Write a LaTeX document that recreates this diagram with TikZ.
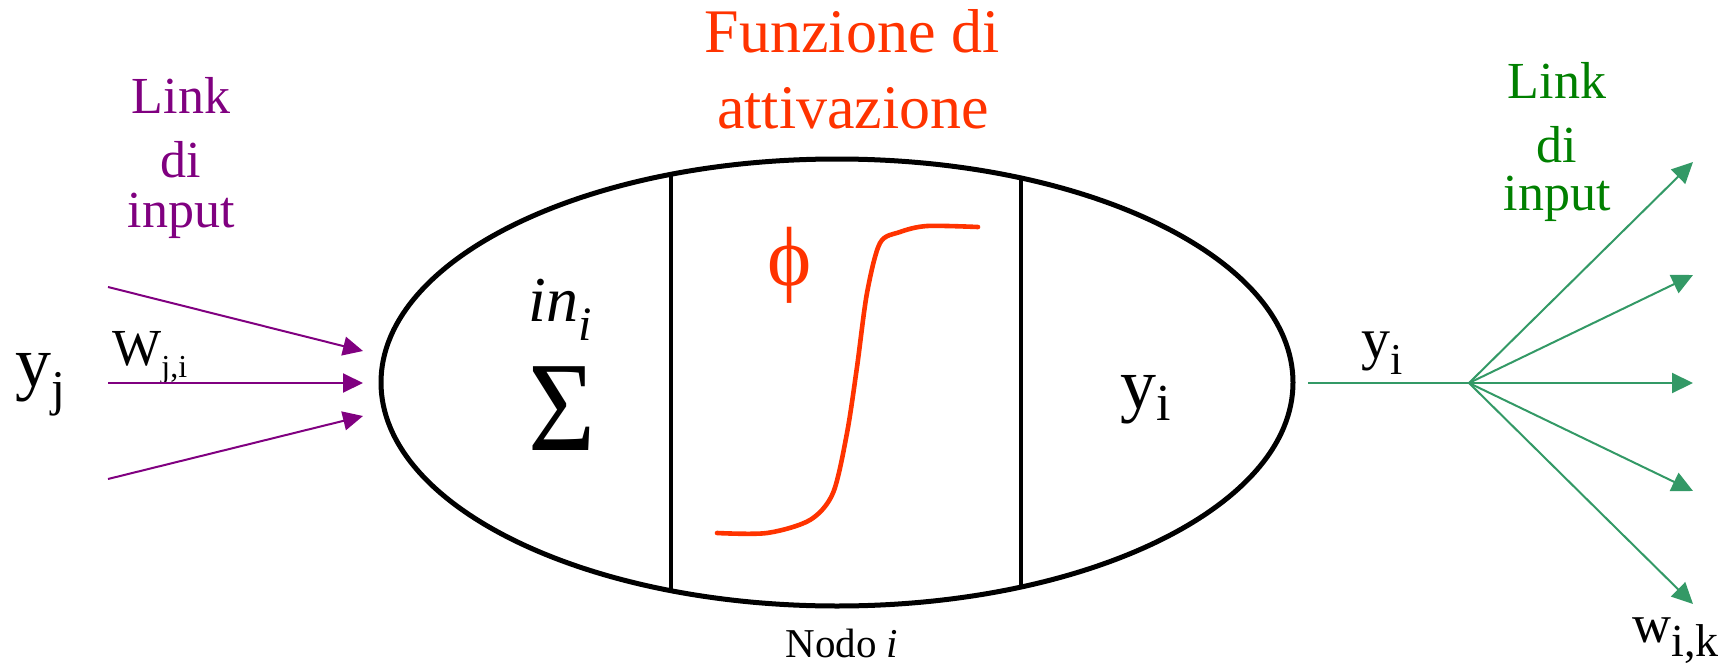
\documentclass[tikz,border=0pt]{standalone}
\usepackage{fontspec}
\setmainfont{Liberation Serif}
\usetikzlibrary{arrows.meta,shapes.geometric}
\definecolor{actred}{HTML}{FF3300}
\definecolor{inpurple}{HTML}{800080}
\definecolor{outgreen}{HTML}{008000}
\definecolor{arrgreen}{HTML}{339966}
\newcommand\fs[1]{\fontsize{#1}{#1}\selectfont}
\begin{document}
\begin{tikzpicture}[x=0.5pt,y=-0.5pt,
  lbl/.style={inner sep=0pt,anchor=base},
  lblw/.style={inner sep=0pt,anchor=base west},
  inarrow/.style={draw=inpurple,line width=1pt,-{Triangle[length=10pt,width=9.5pt]}},
  outline/.style={draw=arrgreen,line width=1pt},
  outarrow/.style={draw=arrgreen,line width=1pt,-{Triangle[length=10.5pt,width=10pt]}},
  divider/.style={line width=2pt},
  cellshape/.style={ellipse,draw,line width=2.5pt,inner sep=0pt,minimum width=456pt,minimum height=223.5pt}]
\useasboundingbox (0,0) rectangle (1735,669);

% main cell
\node[cellshape] (cell) at (837,382.5) {};
\coordinate (d1t) at (671,174.3);
\coordinate (d1b) at (671,590.7);
\coordinate (d2t) at (1021,178);
\coordinate (d2b) at (1021,587);
\draw[divider] (d1t) -- (d1b);
\draw[divider] (d2t) -- (d2b);

% title
\node[lbl,text=actred] (t1) at (852,53) {\fs{31}Funzione di};
\node[lbl,text=actred] (t2) at (853,128) {\fs{31}attivazione};

% left labels
\node[lbl,text=inpurple] (l1) at (181,113) {\fs{26}Link};
\node[lbl,text=inpurple] (l2) at (181,177) {\fs{26}di};
\node[lbl,text=inpurple] (l3) at (181,227) {\fs{26}input};

% right labels
\node[lbl,text=outgreen] (r1) at (1557,98) {\fs{26}Link};
\node[lbl,text=outgreen] (r2) at (1557,162) {\fs{26}di};
\node[lbl,text=outgreen] (r3) at (1557,210) {\fs{26}input};

% y_j and w_{j,i}
\node[lblw] (yj) at (15,386) {\fs{36}y\raisebox{-9.5pt}{\fs{25}j}};
\node[lblw] (wji) at (112,365) {\fs{26}W\raisebox{-6pt}{\fs{16}j,i}};

% in_i and Sigma
\node[lblw] (ini) at (528,321) {\fs{32}\textit{in}\raisebox{-9.5pt}{\fs{24}\textit{i}}};
\node[lbl] (sig) at (562,450) {\scalebox{0.9}[1]{\fs{64}Σ}};

% phi and sigmoid
\node[inner sep=0pt,text=actred] (phi) at (790,265) {\fs{42}ϕ};
\draw[actred,line width=2.3pt,line cap=round] plot[smooth,tension=0.5] coordinates
  {(717,533) (767,533) (810,520) (833,493) (847,433) (857,367) (867,293) (880,243) (900,232) (927,226) (978,227)};

% inner y_i
\node[lblw] (yin) at (1120,408) {\fs{36}y\raisebox{-6pt}{\fs{26}i}};

% output y_i
\node[lblw] (yout) at (1361,358) {\fs{29}y\raisebox{-8pt}{\fs{22}i}};

% w_{i,k}
\node[lblw] (wik) at (1632,642) {\fs{27}w\raisebox{-7pt}{\fs{23}i,k}};

% Nodo i
\node[lbl] (nodo) at (842,657) {\fs{20.5}Nodo \textit{i}};

% input arrows
\coordinate (a1s) at (108,287);
\coordinate (a1e) at (363,351);
\coordinate (a2s) at (108,383);
\coordinate (a2e) at (363,383);
\coordinate (a3s) at (108,479);
\coordinate (a3e) at (363,416);
\draw[inarrow] (a1s) -- (a1e);
\draw[inarrow] (a2s) -- (a2e);
\draw[inarrow] (a3s) -- (a3e);

% output arrows
\coordinate (os) at (1308,383);
\coordinate (hub) at (1469,383);
\coordinate (o1) at (1693,162);
\coordinate (o2) at (1693,275);
\coordinate (o3) at (1693,383);
\coordinate (o4) at (1693,491);
\coordinate (o5) at (1693,604);
\draw[outline] (os) -- (hub);
\draw[outarrow] (hub) -- (o1);
\draw[outarrow] (hub) -- (o2);
\draw[outarrow] (hub) -- (o3);
\draw[outarrow] (hub) -- (o4);
\draw[outarrow] (hub) -- (o5);
\end{tikzpicture}
\end{document}
